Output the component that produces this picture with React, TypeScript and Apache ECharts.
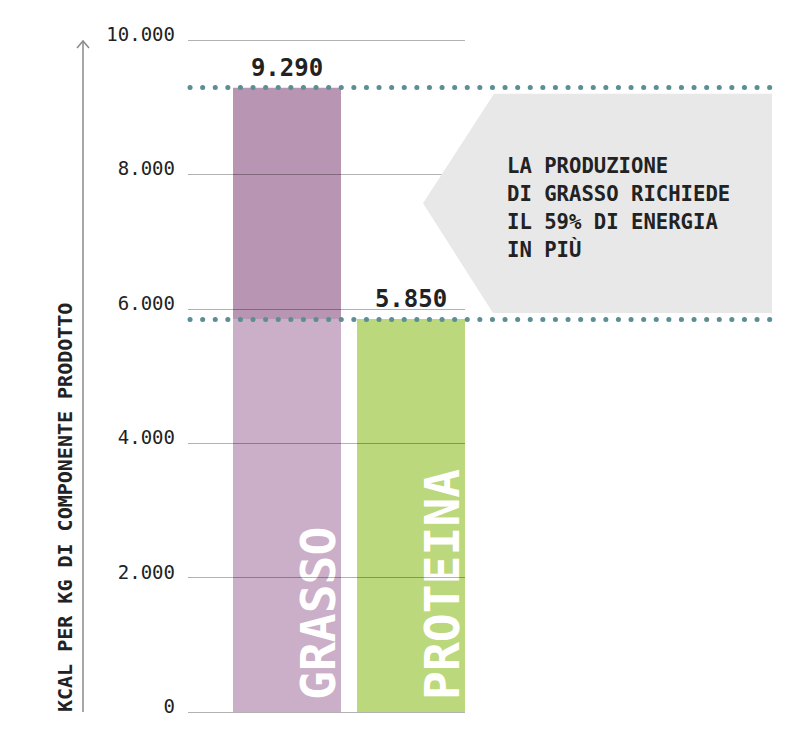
import React, { useEffect, useRef } from 'react';
import * as echarts from 'echarts';

const categories = ['GRASSO', 'PROTEINA'];
const kcalPerKg = [9290, 5850];
const yTickValues = [0, 2000, 4000, 6000, 8000, 10000];
const yAxisTitle = 'KCAL PER KG DI COMPONENTE PRODOTTO';
const calloutLines = ['LA PRODUZIONE', 'DI GRASSO RICHIEDE', 'IL 59% DI ENERGIA', 'IN PIÙ'];

const baseColors = ['#cbaec8', '#bcd87c'];
const topColor = '#b995b4';
const dotColor = '#5b8f94';
const MONO = '"DejaVu Sans Mono", monospace';

const fmt = (v: number) => String(v).replace(/\B(?=(\d{3})+(?!\d))/g, '.');

export default function App() {
  const ref = useRef<HTMLDivElement>(null);

  useEffect(() => {
    document.body.style.margin = '0';
    if (!ref.current) return;
    const chart = echarts.init(ref.current, null, { renderer: 'svg' });

    const refValue = kcalPerKg[1];
    const base = kcalPerKg.map((v) => Math.min(v, refValue));
    const top = kcalPerKg.map((v, i) => v - base[i]);
    const yMax = yTickValues[yTickValues.length - 1];
    const yStep = yTickValues[1] - yTickValues[0];

    chart.setOption({
      animation: false,
      grid: [
        { left: 225, width: 248, top: 40, bottom: 35 },
        { left: 188, width: 277, top: 40, bottom: 35 },
        { left: 190, right: 28, top: 40, bottom: 35 },
      ],
      xAxis: [
        { type: 'category', gridIndex: 0, data: categories, show: false },
        { type: 'value', gridIndex: 1, min: 0, max: 1, show: false },
        { type: 'value', gridIndex: 2, min: 0, max: 1, show: false },
      ],
      yAxis: [
        { type: 'value', gridIndex: 0, min: 0, max: yMax, show: false },
        {
          type: 'value',
          gridIndex: 1,
          min: 0,
          max: yMax,
          interval: yStep,
          z: 5,
          axisLine: { show: false },
          axisTick: { show: false },
          splitLine: { show: true, lineStyle: { color: 'rgba(0,0,0,0.3)', width: 1 } },
          axisLabel: {
            formatter: (v: number) => fmt(v),
            margin: 13,
            color: '#222',
            fontFamily: MONO,
            fontSize: 19,
            verticalAlign: 'bottom',
            lineHeight: 12,
          },
        },
        { type: 'value', gridIndex: 2, min: 0, max: yMax, show: false },
      ],
      series: [
        {
          type: 'bar',
          name: 'base',
          xAxisIndex: 0,
          yAxisIndex: 0,
          stack: 'kcal',
          barWidth: 108,
          data: base.map((v, i) => ({ value: v, itemStyle: { color: baseColors[i] } })),
          label: {
            show: true,
            position: ['100%', '100%'],
            offset: [12, -23],
            rotate: 90,
            align: 'left',
            verticalAlign: 'middle',
            formatter: (p: any) => categories[p.dataIndex],
            color: '#ffffff',
            fontFamily: MONO,
            fontWeight: 'bold',
            fontSize: 48,
          },
        },
        {
          type: 'bar',
          name: 'top',
          xAxisIndex: 0,
          yAxisIndex: 0,
          stack: 'kcal',
          barWidth: 108,
          data: top,
          itemStyle: { color: topColor },
          label: {
            show: true,
            position: 'top',
            distance: 8,
            formatter: (p: any) => fmt(kcalPerKg[p.dataIndex]),
            color: '#222',
            fontFamily: MONO,
            fontWeight: 'bold',
            fontSize: 24,
          },
        },
        {
          type: 'line',
          name: 'ref',
          xAxisIndex: 2,
          yAxisIndex: 2,
          data: [],
          z: 6,
          markLine: {
            silent: true,
            symbol: 'none',
            label: { show: false },
            lineStyle: { color: dotColor, width: 5, type: [0.1, 12.5], cap: 'round' },
            data: [{ yAxis: kcalPerKg[0] }, { yAxis: kcalPerKg[1] }],
          },
        },
      ],
    });

    const yTop = chart.convertToPixel({ yAxisIndex: 2 }, kcalPerKg[0]) as number;
    const yBot = chart.convertToPixel({ yAxisIndex: 2 }, kcalPerKg[1]) as number;
    const y0 = chart.convertToPixel({ yAxisIndex: 1 }, 0) as number;
    const yTopTick = chart.convertToPixel({ yAxisIndex: 1 }, yMax) as number;
    const xRight = chart.convertToPixel({ xAxisIndex: 2 }, 1) as number;
    const yMid = (yTop + yBot) / 2;

    chart.setOption({
      graphic: [
        {
          type: 'polygon',
          z: 10,
          shape: {
            points: [
              [494, yTop + 6],
              [xRight, yTop + 6],
              [xRight, yBot - 6],
              [493, yBot - 6],
              [423, yMid],
            ],
          },
          style: { fill: '#e8e8e8' },
        },
        {
          type: 'text',
          z: 11,
          x: 507,
          y: yMid + 4.5,
          style: {
            text: calloutLines.join('\n'),
            fontFamily: MONO,
            fontWeight: 'bold',
            fontSize: 20.6,
            lineHeight: 28,
            fill: '#222',
            align: 'left',
            verticalAlign: 'middle',
          },
        },
        {
          type: 'text',
          z: 11,
          x: 65,
          y: y0,
          rotation: Math.PI / 2,
          style: {
            text: yAxisTitle,
            fontFamily: MONO,
            fontWeight: 'bold',
            fontSize: 20,
            fill: '#222',
            align: 'left',
            verticalAlign: 'middle',
          },
        },
        {
          type: 'line',
          z: 11,
          shape: { x1: 83, y1: y0, x2: 83, y2: yTopTick + 1 },
          style: { stroke: '#8a8a8a', lineWidth: 1.5 },
        },
        {
          type: 'polyline',
          z: 11,
          shape: { points: [[77, yTopTick + 8], [83, yTopTick + 1], [89, yTopTick + 8]] },
          style: { stroke: '#8a8a8a', lineWidth: 1.5, fill: null },
        },
      ],
    });

    return () => chart.dispose();
  }, []);

  return <div ref={ref} style={{ width: 800, height: 747 }} />;
}
